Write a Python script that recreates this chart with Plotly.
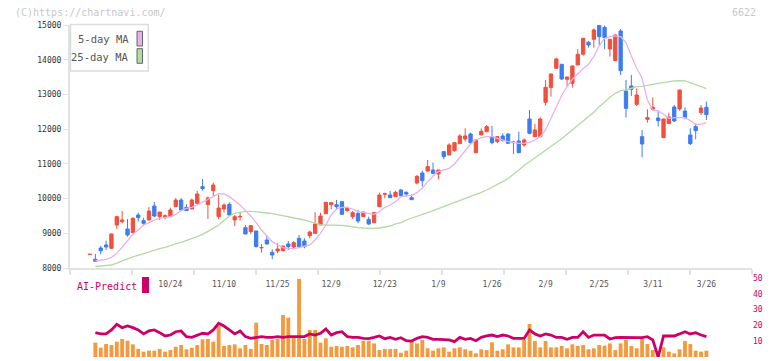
import plotly.graph_objects as go

# ---------------- data ----------------
labels = ["10/24", "11/10", "11/25", "12/9", "12/23", "1/9", "1/26", "2/9", "2/25", "3/11", "3/26"]
label_idx = [15, 25, 35, 45, 55, 65, 75, 85, 95, 105, 115]

opens = [8390, 8250, 8576, 8663, 8567, 9239, 9335, 9124, 9018, 9527,
         9364, 9383, 9786, 9479, 9460, 9479, 9767, 9959, 9748, 9700,
         9863, 10343, 9825, 10228, 9479, 9700, 9834, 9383, 9470, 9162,
         9047, 9066, 8580, 8807, 8452, 8490, 8499, 8692, 8605, 8855,
         8778, 8932, 8999, 9239, 9565, 9825, 9825, 9911, 9652, 9479,
         9575, 9479, 9402, 9306, 9767, 10125, 10103, 10055, 10247, 10180,
         10026, 10449, 10737, 10795, 10823, 10708, 11352, 11256, 11380, 11582,
         11716, 11860, 11323, 11832, 11928, 11784, 11640, 11803, 11860, 11610,
         11659, 11544, 12293, 11784, 11784, 12773, 13196, 13753, 13868, 13436,
         13320, 13849, 14156, 14502, 14588, 14990, 14934, 14310, 13973, 14828,
         13100, 13244, 12715, 11784, 12283, 12571, 12322, 11755, 12159, 12639,
         12581, 12523, 11832, 12072, 12475, 12629]
highs = [8400, 8403, 8634, 8787, 8990, 9508, 9642, 9412, 9460, 9594,
         9450, 9758, 9901, 9613, 9546, 9738, 10017, 10017, 9834, 9998,
         10218, 10564, 10055, 10458, 10103, 9860, 9892, 9527, 9594, 9239,
         9220, 9066, 8692, 8932, 8538, 8711, 8634, 8778, 8778, 8951,
         8855, 9076, 9604, 9594, 9900, 9892, 9959, 9930, 9767, 9642,
         9671, 9613, 9479, 9594, 10170, 10170, 10218, 10228, 10276, 10209,
         10122, 10679, 10804, 11111, 11035, 10823, 11352, 11592, 11611, 11860,
         12024, 11899, 11688, 12024, 12120, 12091, 11803, 11880, 11880, 11668,
         11928, 11736, 12552, 12149, 12341, 13416, 13600, 14060, 13880, 13512,
         13830, 14309, 14628, 14540, 14905, 14995, 14982, 14595, 14720, 14886,
         13417, 13560, 13176, 11976, 12571, 12917, 12533, 12300, 12475, 12696,
         13130, 12629, 12024, 12168, 12696, 12792]
lows = [8385, 8190, 8394, 8519, 8550, 9124, 9287, 8903, 9000, 9335,
        9239, 9383, 9460, 9383, 9402, 9469, 9767, 9652, 9652, 9700,
        9863, 10228, 9412, 10074, 9402, 9594, 9498, 9210, 9364, 8975,
        8980, 8595, 8442, 8672, 8250, 8423, 8471, 8519, 8538, 8595,
        8567, 8855, 8980, 9239, 9560, 9690, 9671, 9527, 9623, 9412,
        9287, 9479, 9239, 9287, 9767, 10007, 10026, 10055, 10055, 10055,
        9969, 10410, 10343, 10775, 10708, 10555, 11131, 11256, 11352, 11582,
        11640, 11563, 11304, 11832, 11908, 11563, 11592, 11649, 11572, 11284,
        11304, 11496, 11851, 11764, 11764, 12677, 12936, 13733, 13416, 13224,
        13196, 13849, 14117, 14348, 14348, 14425, 14300, 14089, 13960, 13560,
        12331, 12956, 12667, 11188, 12187, 12533, 12072, 11750, 12159, 12206,
        12533, 12283, 11544, 11707, 12408, 12264]
closes = [8395, 8192, 8499, 8605, 8980, 9479, 9383, 8951, 9431, 9450,
          9287, 9642, 9498, 9613, 9508, 9671, 9959, 9671, 9652, 9959,
          10132, 10286, 10017, 10391, 9729, 9815, 9527, 9479, 9485, 8980,
          9220, 8615, 8590, 8692, 8375, 8547, 8634, 8615, 8730, 8615,
          8615, 9037, 9268, 9498, 9892, 9882, 9767, 9546, 9719, 9594,
          9354, 9613, 9268, 9594, 10103, 10140, 10026, 10180, 10084, 10132,
          9969, 10641, 10516, 10919, 10727, 10823, 11208, 11544, 11611, 11803,
          11803, 11611, 11688, 11937, 12072, 11611, 11784, 11668, 11592, 11625,
          11323, 11688, 11880, 11976, 12293, 13205, 13589, 14021, 13445, 13503,
          13820, 14156, 14617, 14425, 14857, 14665, 14636, 14588, 14713, 13685,
          12600, 13148, 12984, 11573, 12331, 12629, 12245, 12293, 12351, 12235,
          13128, 12331, 11582, 11957, 12610, 12418]

ma5 = [None, 8202, 8221, 8250, 8307, 8423, 8595, 8787, 8970, 9095,
       9239, 9306, 9383, 9431, 9460, 9479, 9546, 9652, 9719, 9748,
       9815, 9892, 9959, 10055, 10141, 10132, 10055, 9940, 9815, 9652,
       9498, 9306, 9095, 8922, 8759, 8663, 8586, 8557, 8557, 8586,
       8615, 8663, 8807, 8999, 9239, 9527, 9700, 9748, 9748, 9700,
       9623, 9594, 9556, 9546, 9623, 9748, 9815, 9911, 10055, 10074,
       10094, 10170, 10295, 10487, 10651, 10775, 10823, 10871, 10996, 11188,
       11380, 11572, 11688, 11755, 11784, 11784, 11736, 11688, 11640, 11620,
       11592, 11592, 11620, 11688, 11784, 11976, 12312, 12677, 12970, 13224,
       13436, 13590, 13750, 13870, 14089, 14400, 14617, 14665, 14684, 14665,
       14492, 14108, 13752, 13465, 12840, 12552, 12523, 12427, 12312, 12331,
       12341, 12331, 12245, 12139, 12139, 12187]
ma25 = [None, 8048, 8058, 8067, 8086, 8140, 8190, 8260, 8320, 8370,
        8420, 8461, 8519, 8557, 8595, 8634, 8692, 8740, 8787, 8835,
        8903, 8970, 9047, 9143, 9239, 9383, 9498, 9575, 9613, 9632,
        9632, 9623, 9604, 9584, 9565, 9536, 9508, 9479, 9450, 9421,
        9383, 9335, 9287, 9248, 9239, 9239, 9229, 9229, 9210, 9181,
        9162, 9152, 9143, 9143, 9152, 9172, 9210, 9268, 9306, 9383,
        9431, 9479, 9537, 9594, 9652, 9709, 9767, 9825, 9882, 9940,
        9997, 10055, 10113, 10180, 10247, 10324, 10401, 10487, 10580, 10690,
        10820, 10950, 11060, 11170, 11270, 11400, 11500, 11600, 11720, 11850,
        11976, 12091, 12206, 12341, 12485, 12648, 12792, 12917, 13032, 13109,
        13128, 13176, 13224, 13234, 13253, 13292, 13320, 13349, 13368, 13388,
        13397, 13388, 13340, 13282, 13215, 13167]
volume = [None, 9.1, 5.9, 8.2, 7.6, 9.7, 11.4, 10.3, 8.0, 5.1,
          3.4, 4.0, 4.0, 5.1, 3.4, 4.4, 6.5, 7.6, 4.9, 5.9,
          7.6, 11.2, 11.4, 9.7, 19.8, 7.0, 7.6, 8.0, 5.5, 7.6,
          5.1, 21.7, 8.2, 7.6, 10.8, 11.4, 26.6, 24.9, 12.9, 49.4,
          11.4, 17.1, 17.1, 9.1, 11.8, 6.5, 7.0, 6.5, 7.0, 6.1,
          7.6, 10.3, 10.3, 8.6, 4.4, 5.1, 5.1, 5.1, 2.7, 4.0,
          9.7, 8.6, 10.8, 5.5, 4.0, 5.5, 6.1, 3.4, 5.5, 6.1,
          4.9, 4.0, 2.3, 4.9, 4.4, 9.3, 4.0, 4.9, 8.0, 6.1,
          6.1, 10.8, 20.9, 10.1, 6.1, 10.1, 6.1, 6.1, 7.0, 5.5,
          8.0, 7.0, 7.6, 4.9, 5.5, 7.6, 7.2, 8.6, 4.4, 8.6,
          10.8, 7.0, 5.5, 11.4, 8.2, 4.4, 0.5, 6.1, 3.4, 2.3,
          4.9, 10.1, 8.2, 4.0, 3.4, 4.0]
ai_predict = [None, 15.4, 14.6, 14.6, 17.1, 20.7, 18.6, 19.6, 18.6, 17.1,
              14.6, 16.5, 17.1, 15.4, 13.3, 13.9, 16.0, 16.5, 12.9, 12.4,
              13.9, 15.0, 14.6, 17.1, 21.3, 19.6, 17.1, 14.6, 16.5, 12.9,
              11.8, 12.4, 12.9, 12.4, 12.4, 12.9, 12.4, 12.9, 12.9, 13.3,
              12.9, 14.6, 13.9, 15.0, 17.7, 13.9, 15.4, 16.0, 12.9, 12.4,
              12.4, 11.8, 11.6, 12.4, 13.3, 11.6, 12.4, 11.2, 12.2, 10.3,
              10.1, 11.8, 12.9, 12.4, 11.2, 11.2, 10.8, 10.8, 9.7, 12.4,
              11.2, 11.8, 10.3, 12.4, 13.3, 13.9, 12.9, 13.9, 13.3, 11.8,
              11.8, 11.8, 17.1, 14.6, 13.3, 14.6, 13.9, 12.4, 12.4, 11.2,
              12.4, 12.4, 16.0, 12.4, 13.9, 13.9, 13.9, 11.4, 12.2, 12.4,
              12.2, 12.2, 12.2, 12.2, 12.9, 10.8, 0.0, 13.3, 13.3, 13.3,
              14.6, 16.0, 14.6, 15.4, 13.9, 12.9]
price_ticks = [8000, 9000, 10000, 11000, 12000, 13000, 14000, 15000]
ai_ticks = [0, 10, 20, 30, 40, 50]

x = list(range(len(opens)))

# ---------------- styling ----------------
W, H = 772, 361
ML, MR = 70, 20
RED = "#f24f3c"
BLUE = "#3d7cf0"
PINK = "#e8b2e8"
GREEN = "#b2daa2"
ORANGE = "#f39a3e"
MAG = "#cc0066"
AXC = "#e2e2e2"
FONT = "DejaVu Sans Mono"

PX_PER = 5.36
X0PX = 90.0
xmin = (ML - X0PX) / PX_PER
xmax = (W - MR - X0PX) / PX_PER
nmarks = 12
tick_marks = [xmin + k * (xmax - xmin) / (nmarks - 1) for k in range(nmarks)]


def px_x(p):
    return (p - ML) / (W - ML - MR)


def px_y(p):
    return 1 - p / H


fig = go.Figure()
fig.add_trace(go.Scatter(x=x, y=ma25, mode="lines", line=dict(color=GREEN, width=1.3),
                         showlegend=False, hoverinfo="skip", xaxis="x", yaxis="y"))
fig.add_trace(go.Scatter(x=x, y=ma5, mode="lines", line=dict(color=PINK, width=1.3),
                         showlegend=False, hoverinfo="skip", xaxis="x", yaxis="y"))
fig.add_trace(go.Candlestick(
    x=x, open=opens, high=highs, low=lows, close=closes,
    increasing=dict(line=dict(color=RED, width=1), fillcolor=RED),
    decreasing=dict(line=dict(color=BLUE, width=1), fillcolor=BLUE),
    whiskerwidth=0, showlegend=False, hoverinfo="skip", xaxis="x", yaxis="y"))
fig.add_trace(go.Bar(x=x, y=volume, marker=dict(color=ORANGE, line=dict(width=0)), width=0.72,
                     showlegend=False, hoverinfo="skip", xaxis="x2", yaxis="y2"))
fig.add_trace(go.Scatter(x=x, y=ai_predict, mode="lines", line=dict(color=MAG, width=2.8),
                         showlegend=False, hoverinfo="skip", xaxis="x2", yaxis="y2"))

fig.update_layout(
    width=W, height=H,
    margin=dict(l=ML, r=MR, t=0, b=0, autoexpand=False),
    paper_bgcolor="white", plot_bgcolor="white",
    font=dict(family=FONT, size=8, color="#444"),
    boxgap=0.12,
    hovermode=False,
    xaxis=dict(domain=[0, 1], range=[xmin, xmax], anchor="y", automargin=False,
               showline=True, linecolor=AXC, linewidth=2, showgrid=False, zeroline=False,
               tickmode="array", tickvals=label_idx, ticktext=labels, ticks="",
               ticklabelstandoff=7,
               tickfont=dict(family=FONT, size=8, color="#555"),
               minor=dict(tickmode="array", tickvals=tick_marks, ticks="outside",
                          ticklen=5, tickwidth=2, tickcolor=AXC, showgrid=False),
               rangeslider=dict(visible=False), fixedrange=True),
    xaxis3=dict(overlaying="x", anchor="y", range=[xmin, xmax], showline=False, automargin=False,
                showgrid=False, zeroline=False, tickmode="array", tickvals=tick_marks,
                ticks="inside", ticklen=3, tickwidth=2, tickcolor=AXC, showticklabels=False),
    yaxis=dict(domain=[px_y(268), px_y(25)], range=[8000, 15000], anchor="x", automargin=False,
               showline=True, linecolor=AXC, linewidth=2, showgrid=False, zeroline=False,
               tickmode="array", tickvals=price_ticks, tickformat="d",
               ticks="outside", ticklen=5, tickwidth=1, tickcolor=AXC,
               tickfont=dict(family=FONT, size=8, color="#333")),
    xaxis2=dict(domain=[0, 1], range=[xmin, xmax], anchor="y2", visible=False, automargin=False),
    yaxis2=dict(domain=[px_y(357), px_y(278)], range=[0, 50], anchor="x2", side="right",
                automargin=False,
                showline=False, showgrid=False, zeroline=False, ticks="",
                tickmode="array", tickvals=ai_ticks,
                tickfont=dict(family=FONT, size=8, color=MAG)),
)

shapes = [
    dict(type="rect", xref="paper", yref="paper", x0=px_x(70.5), x1=px_x(148.3),
         y0=px_y(71), y1=px_y(24.5), fillcolor="white", line=dict(color="#dcdcdc", width=1.5),
         layer="above"),
    dict(type="rect", xref="paper", yref="paper", x0=px_x(137), x1=px_x(142.5),
         y0=px_y(46), y1=px_y(31.3), fillcolor=PINK, line=dict(color="#666", width=1),
         layer="above"),
    dict(type="rect", xref="paper", yref="paper", x0=px_x(137), x1=px_x(142.5),
         y0=px_y(63.3), y1=px_y(48.7), fillcolor=GREEN, line=dict(color="#666", width=1),
         layer="above"),
    dict(type="rect", xref="paper", yref="paper", x0=px_x(142), x1=px_x(149),
         y0=px_y(293), y1=px_y(277), fillcolor=MAG, line=dict(width=0), layer="above"),
]
fig.update_layout(shapes=shapes)


def ann(text, xp, yp, anchor, size, color):
    fig.add_annotation(text=text, xref="paper", yref="paper", x=px_x(xp), y=px_y(yp),
                       xanchor=anchor, yanchor="middle", showarrow=False,
                       font=dict(family=FONT, size=size, color=color))


ann("5-day MA", 130.5, 39.5, "right", 10.5, "#555")
ann("25-day MA", 130.5, 57, "right", 10.5, "#555")
ann("(C)https://chartnavi.com/", 13, 12, "left", 10, "#c8c8c8")
ann("6622", 758, 12, "right", 10, "#c8c8c8")
ann("AI-Predict", 75, 286, "left", 10, MAG)

fig.write_html("out.html", config={"displayModeBar": False, "staticPlot": True},
               post_script="document.body.style.margin='0';document.body.style.overflow='hidden';")
